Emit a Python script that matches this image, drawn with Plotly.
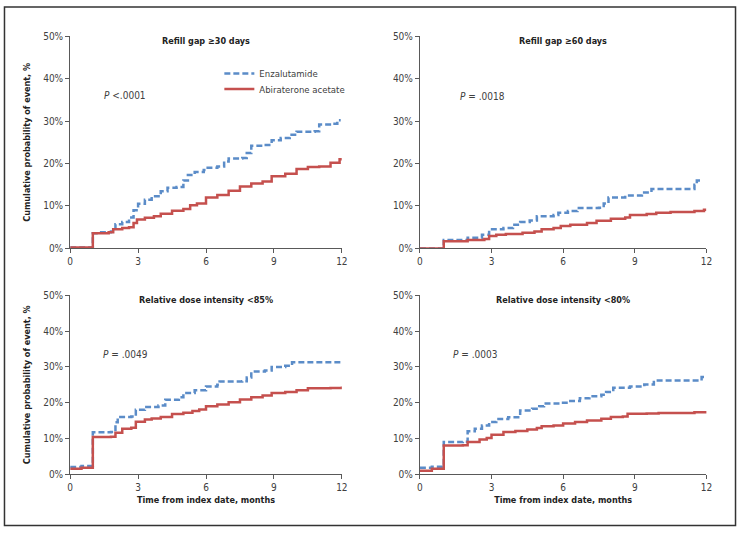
import plotly.graph_objects as go

# ---------------- data ----------------
panel_titles = ["Refill gap \u226530 days", "Refill gap \u226560 days",
                "Relative dose intensity <85%", "Relative dose intensity <80%"]
p_values = ["<i>P</i> <.0001", "<i>P</i> = .0018", "<i>P</i> = .0049", "<i>P</i> = .0003"]
series_names = ["Enzalutamide", "Abiraterone acetate"]
x_ticks = [0, 3, 6, 9, 12]
y_ticks = [0, 10, 20, 30, 40, 50]
y_tick_labels = ["0%", "10%", "20%", "30%", "40%", "50%"]

# Panel 1: Refill gap >=30 days
p1_enz_t = [0, 1.0, 1.3, 1.8, 2.0, 2.3, 2.6, 2.8, 3.0, 3.3, 3.6, 4.0, 4.3, 4.7, 5.0, 5.2, 5.5, 5.9, 6.0,
            6.5, 6.8, 7.0, 7.6, 7.8, 8.0, 8.5, 8.9, 9.3, 9.7, 10.0, 10.8, 11.0, 11.6, 11.8, 11.95]
p1_enz_v = [0.2, 3.6, 3.8, 4.0, 5.7, 6.2, 7.3, 9.0, 10.5, 11.5, 12.3, 13.5, 14.3, 14.5, 16.0, 17.3, 18.0, 18.5, 19.0,
            19.3, 20.5, 21.2, 21.3, 22.5, 24.2, 24.4, 25.5, 26.0, 26.8, 27.5, 27.6, 29.2, 29.4, 30.2, 30.2]
p1_abi_t = [0, 1.0, 1.7, 1.9, 2.3, 2.6, 2.8, 2.95, 3.3, 3.7, 4.0, 4.5, 5.0, 5.3, 5.6, 6.0, 6.5, 7.0, 7.5,
            8.0, 8.5, 8.9, 9.5, 10.0, 10.5, 11.0, 11.5, 11.9, 12.0]
p1_abi_v = [0.2, 3.6, 3.8, 4.5, 4.8, 5.0, 6.0, 6.8, 7.2, 7.6, 8.2, 8.9, 9.3, 10.2, 10.6, 12.0, 12.6, 13.6, 14.6,
            15.3, 15.8, 17.0, 17.6, 18.7, 19.2, 19.3, 20.2, 21.0, 21.0]

# Panel 2: Refill gap >=60 days
p2_enz_t = [0, 1.0, 2.0, 2.6, 2.9, 3.5, 3.9, 4.2, 4.6, 4.9, 5.6, 5.8, 6.2, 6.6, 7.5, 7.7, 7.9, 8.6, 9.3, 9.7,
            11.4, 11.5, 11.6, 11.85]
p2_enz_v = [0.0, 2.0, 2.5, 3.2, 4.5, 4.8, 5.6, 6.2, 6.6, 7.6, 7.9, 8.4, 8.8, 9.5, 9.6, 10.6, 12.0, 12.5, 13.2, 14.0,
            14.0, 15.0, 16.0, 16.0]
p2_abi_t = [0, 1.0, 2.0, 2.7, 2.9, 3.2, 3.6, 4.3, 4.8, 5.1, 5.6, 5.9, 6.3, 7.0, 7.4, 8.0, 8.6, 8.8, 9.5, 9.9,
            10.5, 11.5, 11.9, 12.0]
p2_abi_v = [0.0, 1.7, 2.0, 2.2, 2.9, 3.2, 3.4, 3.7, 4.0, 4.5, 4.8, 5.3, 5.6, 6.0, 6.5, 7.0, 7.3, 7.9, 8.1, 8.4,
            8.6, 8.8, 9.1, 9.1]

# Panel 3: Relative dose intensity <85%
p3_enz_t = [0, 0.5, 1.0, 1.8, 2.0, 2.1, 2.7, 2.9, 3.3, 3.9, 4.2, 4.8, 5.0, 5.5, 6.0, 6.5, 6.6, 7.6, 7.8, 8.0,
            8.6, 8.9, 9.5, 9.8, 12.0]
p3_enz_v = [2.0, 2.3, 11.7, 11.8, 14.5, 16.0, 16.1, 18.0, 18.8, 19.2, 20.8, 21.5, 22.7, 23.5, 24.5, 25.0, 25.9, 26.0,
            27.0, 28.7, 29.0, 30.0, 30.3, 31.3, 31.3]
p3_abi_t = [0, 0.5, 1.0, 1.8, 2.0, 2.3, 2.7, 2.9, 3.3, 3.6, 4.0, 4.5, 5.0, 5.4, 5.7, 6.0, 6.5, 7.0, 7.5, 8.0,
            8.5, 8.9, 9.5, 10.0, 10.5, 11.5, 12.0]
p3_abi_v = [1.5, 1.8, 10.4, 10.5, 11.6, 12.7, 13.0, 14.7, 15.3, 15.6, 16.0, 16.8, 17.2, 17.7, 18.1, 19.0, 19.5, 20.1,
            20.9, 21.5, 22.0, 22.7, 23.0, 23.5, 24.0, 24.1, 24.5]

# Panel 4: Relative dose intensity <80%
p4_enz_t = [0, 0.5, 1.0, 1.8, 2.0, 2.3, 2.6, 2.9, 3.2, 3.7, 4.2, 4.7, 5.0, 5.2, 5.9, 6.3, 6.7, 7.1, 7.6, 7.8,
            8.1, 8.8, 9.4, 9.8, 11.7, 11.8, 11.95]
p4_enz_v = [1.8, 2.1, 9.0, 9.1, 12.0, 12.7, 13.6, 14.6, 15.4, 15.9, 17.8, 18.3, 19.0, 19.8, 20.0, 20.5, 21.2, 21.8,
            22.2, 23.0, 24.2, 24.5, 25.1, 26.2, 26.2, 27.2, 27.2]
p4_abi_t = [0, 0.5, 1.0, 1.8, 2.0, 2.5, 2.8, 3.0, 3.5, 4.0, 4.5, 4.9, 5.1, 5.6, 6.0, 6.5, 7.0, 7.6, 8.0, 8.5,
            8.7, 9.5, 10.0, 11.5, 12.0]
p4_abi_v = [1.0, 1.5, 8.0, 8.1, 9.0, 9.7, 10.1, 11.0, 11.8, 12.1, 12.5, 12.9, 13.4, 13.6, 14.2, 14.6, 15.0, 15.5,
            16.0, 16.1, 16.9, 17.0, 17.1, 17.3, 17.7]

panels = [
    (p1_enz_t, p1_enz_v, p1_abi_t, p1_abi_v),
    (p2_enz_t, p2_enz_v, p2_abi_t, p2_abi_v),
    (p3_enz_t, p3_enz_v, p3_abi_t, p3_abi_v),
    (p4_enz_t, p4_enz_v, p4_abi_t, p4_abi_v),
]

# ---------------- styling ----------------
W, H = 743, 533
FONT = "Liberation Sans Narrow, Arial Narrow, DejaVu Sans Condensed, sans-serif"
BLUE = "#5b8cc8"
RED = "#c5504e"
AXIS = "#595959"
TEXT = "#404040"
DARK = "#222222"

def px_x(p):
    return p / W

def px_y(p):
    return 1 - p / H

x_domains = [(68, 343), (422, 712), (68, 343), (422, 712)]
y_domains = [(31, 248), (31, 248), (296, 479), (296, 479)]

fig = go.Figure()

for i, (et, ev, at, av) in enumerate(panels):
    ax = "" if i == 0 else str(i + 1)
    fig.add_trace(go.Scatter(x=et, y=ev, mode="lines", line_shape="hv", name=series_names[0],
                             line=dict(color=BLUE, width=2.5, dash="6px,3px"),
                             xaxis="x" + ax, yaxis="y" + ax, showlegend=(i == 0), legend="legend"))
    fig.add_trace(go.Scatter(x=at, y=av, mode="lines", line_shape="hv", name=series_names[1],
                             line=dict(color=RED, width=2.5),
                             xaxis="x" + ax, yaxis="y" + ax, showlegend=(i == 0), legend="legend2"))

layout = dict(autosize=True, margin=dict(l=0, r=0, t=0, b=0),
              paper_bgcolor="white", plot_bgcolor="white",
              font=dict(family=FONT, size=10, color=TEXT))

for i in range(4):
    ax = "" if i == 0 else str(i + 1)
    xd = x_domains[i]
    yd = y_domains[i]
    xa = dict(domain=[px_x(xd[0]), px_x(xd[1])], range=[0, 12], tickvals=x_ticks,
              showline=True, linecolor=AXIS, linewidth=1, ticks="outside", ticklen=4,
              tickcolor=AXIS, showgrid=False, zeroline=False, anchor="y" + ax,
              tickfont=dict(size=10, color=TEXT), fixedrange=True)
    ya = dict(domain=[px_y(yd[1]), px_y(yd[0])], range=[0, 50], tickmode="array",
              tickvals=y_ticks, ticktext=y_tick_labels,
              showline=True, linecolor=AXIS, linewidth=1, ticks="outside",
              ticklen=4, tickcolor=AXIS, showgrid=False, zeroline=False, anchor="x" + ax,
              tickfont=dict(size=10, color=TEXT), fixedrange=True)
    if i in (0, 2):
        ya["title"] = dict(text="<b>Cumulative probability of event, %</b>",
                           font=dict(size=9, color=DARK), standoff=11)
    if i in (2, 3):
        xa["title"] = dict(text="<b>Time from index date, months</b>",
                           font=dict(size=9, color=DARK), standoff=4)
    layout["xaxis" + ax] = xa
    layout["yaxis" + ax] = ya

fig.update_layout(**layout)

annotations = []
for i in range(4):
    xd = x_domains[i]
    yd = y_domains[i]
    annotations.append(dict(text="<b>" + panel_titles[i] + "</b>", xref="paper", yref="paper",
                            x=px_x((xd[0] + xd[1]) / 2), y=px_y(yd[0] + 5), xanchor="center",
                            yanchor="middle", showarrow=False,
                            font=dict(size=9, color=DARK)))
p_pos = [(100, 92), (461, 93), (99, 357), (453, 357)]
for i, (px, py) in enumerate(p_pos):
    annotations.append(dict(text=p_values[i], xref="paper", yref="paper", x=px_x(px), y=px_y(py),
                            xanchor="left", yanchor="middle", showarrow=False,
                            font=dict(size=10, color=TEXT)))
fig.update_layout(annotations=annotations)

legend_common = dict(xanchor="left", yanchor="middle", bgcolor="rgba(0,0,0,0)",
                     font=dict(size=9.5, color=TEXT), itemwidth=30, borderwidth=0)
fig.update_layout(legend=dict(x=px_x(219), y=px_y(69), **legend_common),
                  legend2=dict(x=px_x(219), y=px_y(85), **legend_common))

fig.add_shape(type="rect", xref="paper", yref="paper", x0=px_x(1.5), x1=px_x(741.5),
              y0=px_y(531.5), y1=px_y(1), line=dict(color="#333333", width=1.5))

fig.write_html("out.html", config={"displayModeBar": False, "responsive": True},
               default_width="100vw", default_height="100vh",
               post_script=("document.documentElement.style.margin='0';"
                            "document.documentElement.style.overflow='hidden';"
                            "document.body.style.margin='0';"
                            "document.body.style.overflow='hidden';"
                            "var gd=document.getElementsByClassName('plotly-graph-div')[0];"
                            "gd.style.position='fixed';gd.style.left='0';gd.style.top='0';"))
